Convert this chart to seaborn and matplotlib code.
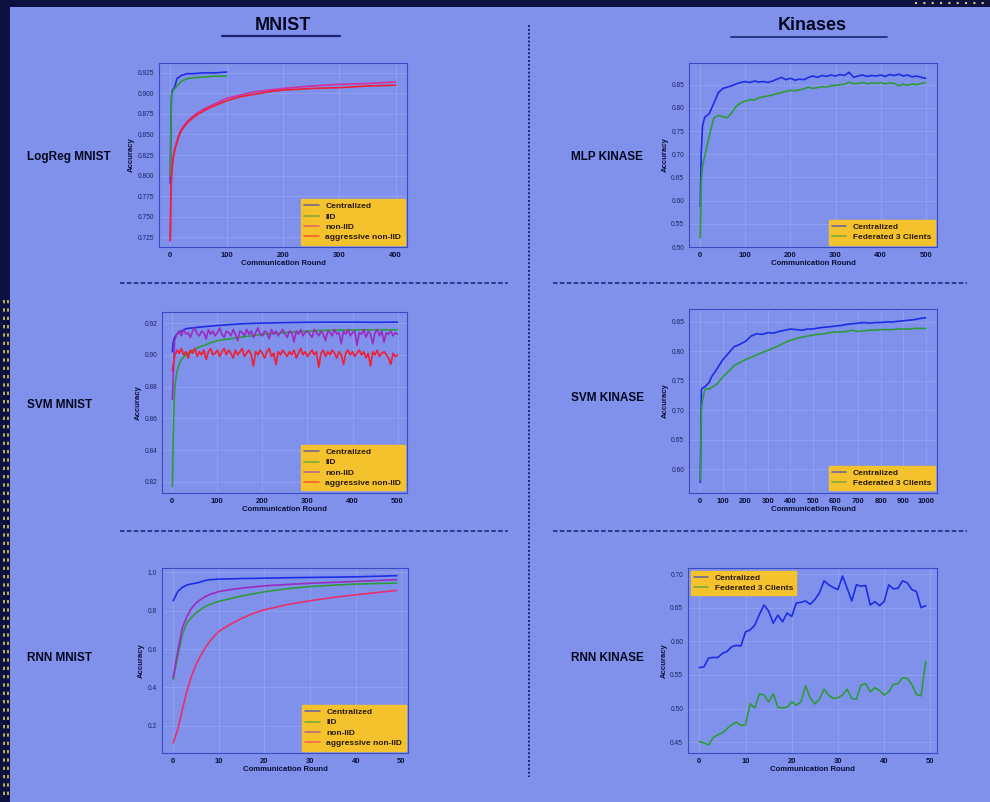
import numpy as np
import matplotlib.pyplot as plt
from matplotlib.lines import Line2D
from matplotlib.patches import Rectangle
import seaborn as sns

# LogReg MNIST
logreg_x_short = [0, 1, 2, 3, 5, 8, 12, 16, 20, 30, 40, 60, 80, 100]
logreg_central = [0.790, 0.850, 0.895, 0.902, 0.905, 0.908, 0.918, 0.920, 0.922, 0.924, 0.924, 0.925, 0.925, 0.926]
logreg_iid = [0.800, 0.860, 0.893, 0.901, 0.903, 0.906, 0.909, 0.912, 0.915, 0.918, 0.919, 0.920, 0.921, 0.921]
logreg_x_long = [0, 1, 2, 3, 5, 8, 10, 15, 20, 30, 40, 50, 60, 75, 100, 125, 150, 175, 200, 250, 300, 350, 400]
logreg_noniid = [0.720, 0.780, 0.800, 0.810, 0.822, 0.833, 0.838, 0.849, 0.857, 0.866, 0.872, 0.877, 0.881,
                 0.886, 0.894, 0.898, 0.902, 0.904, 0.906, 0.909, 0.911, 0.912, 0.914]
logreg_aggr = [0.722, 0.770, 0.795, 0.807, 0.820, 0.831, 0.836, 0.847, 0.855, 0.864, 0.870, 0.875, 0.879,
               0.884, 0.891, 0.896, 0.899, 0.902, 0.904, 0.906, 0.907, 0.909, 0.910]

# MLP KINASE
mlp_x = [0, 2, 5] + list(range(10, 501, 10))
mlp_central = [0.588, 0.700, 0.762, 0.780, 0.788, 0.810, 0.833, 0.842, 0.845, 0.848, 0.852, 0.855, 0.857,
               0.855, 0.858, 0.856, 0.857, 0.855, 0.858, 0.862, 0.866, 0.861, 0.864, 0.860, 0.862, 0.861,
               0.866, 0.869, 0.866, 0.870, 0.868, 0.871, 0.869, 0.872, 0.870, 0.877, 0.866, 0.869, 0.871,
               0.868, 0.870, 0.869, 0.871, 0.868, 0.872, 0.870, 0.873, 0.869, 0.871, 0.867, 0.869, 0.866, 0.864]
mlp_fed = [0.520, 0.640, 0.675, 0.697, 0.740, 0.778, 0.784, 0.781, 0.779, 0.790, 0.804, 0.811, 0.815,
           0.818, 0.817, 0.822, 0.824, 0.826, 0.828, 0.831, 0.833, 0.836, 0.838, 0.837, 0.839, 0.841,
           0.845, 0.842, 0.844, 0.846, 0.845, 0.848, 0.849, 0.850, 0.851, 0.856, 0.852, 0.853, 0.855,
           0.852, 0.854, 0.853, 0.855, 0.852, 0.854, 0.853, 0.848, 0.851, 0.849, 0.852, 0.850, 0.853, 0.855]

# SVM MNIST
svm_m_x_central = [0, 2, 5, 10, 20, 30, 45, 60, 80, 100, 125, 150, 175, 200, 250, 300, 350, 400, 450, 500]
svm_m_central = [0.902, 0.908, 0.911, 0.913, 0.915, 0.9165, 0.917, 0.9175, 0.918, 0.9185, 0.919, 0.9195,
                 0.9198, 0.920, 0.9203, 0.9205, 0.9206, 0.9206, 0.9205, 0.9206]
svm_m_x_iid = [0, 2, 4, 6, 10, 15, 20, 30, 40, 60, 80, 100, 125, 150, 200, 250, 300, 350, 400, 450, 500]
svm_m_iid = [0.817, 0.850, 0.872, 0.881, 0.889, 0.894, 0.897, 0.900, 0.902, 0.905, 0.907, 0.909, 0.910,
             0.911, 0.913, 0.914, 0.915, 0.9155, 0.9157, 0.9158, 0.9158]
svm_m_x_noisy = list(range(0, 501, 5))
svm_m_noniid = [
    0.872, 0.909, 0.913, 0.915, 0.912, 0.916, 0.913, 0.914, 0.911, 0.915,
    0.917, 0.913, 0.912, 0.915, 0.914, 0.910, 0.916, 0.913, 0.915, 0.912,
    0.914, 0.917, 0.913, 0.911, 0.915, 0.914, 0.912, 0.916, 0.913, 0.909,
    0.915, 0.914, 0.912, 0.916, 0.913, 0.915, 0.911, 0.914, 0.917, 0.913,
    0.912, 0.915, 0.914, 0.910, 0.916, 0.913, 0.915, 0.912, 0.914, 0.916,
    0.913, 0.911, 0.915, 0.914, 0.908, 0.915, 0.913, 0.916, 0.912, 0.914,
    0.915, 0.913, 0.911, 0.916, 0.914, 0.912, 0.915, 0.913, 0.909, 0.915,
    0.914, 0.912, 0.916, 0.913, 0.914, 0.907, 0.915, 0.913, 0.916, 0.912,
    0.914, 0.915, 0.906, 0.914, 0.913, 0.916, 0.911, 0.915, 0.913, 0.907,
    0.914, 0.916, 0.912, 0.915, 0.908, 0.914, 0.913, 0.915, 0.912, 0.914,
    0.913]
svm_m_aggr = [
    0.890, 0.899, 0.903, 0.901, 0.904, 0.900, 0.902, 0.898, 0.903, 0.901,
    0.904, 0.899, 0.902, 0.900, 0.903, 0.897, 0.902, 0.904, 0.900, 0.901,
    0.903, 0.899, 0.902, 0.904, 0.900, 0.903, 0.901, 0.898, 0.903, 0.900,
    0.902, 0.904, 0.899, 0.901, 0.903, 0.900, 0.893, 0.902, 0.900, 0.903,
    0.901, 0.898, 0.902, 0.904, 0.899, 0.901, 0.894, 0.902, 0.900, 0.903,
    0.901, 0.899, 0.902, 0.900, 0.903, 0.898, 0.901, 0.904, 0.900, 0.902,
    0.899, 0.901, 0.903, 0.900, 0.902, 0.892, 0.901, 0.903, 0.899, 0.902,
    0.900, 0.903, 0.901, 0.898, 0.902, 0.900, 0.894, 0.901, 0.903, 0.900,
    0.902, 0.899, 0.901, 0.903, 0.900, 0.902, 0.898, 0.901, 0.893, 0.902,
    0.900, 0.903, 0.899, 0.901, 0.902, 0.900, 0.898, 0.894, 0.901, 0.899,
    0.900]

# SVM KINASE
svm_k_x = [0, 5, 10, 20, 30, 40, 50] + list(range(75, 1001, 25))
svm_k_central = [0.578, 0.735, 0.738, 0.740, 0.744, 0.748, 0.757, 0.771, 0.786, 0.797, 0.808, 0.812,
                 0.817, 0.826, 0.830, 0.829, 0.832, 0.831, 0.834, 0.836, 0.838, 0.837, 0.836, 0.838,
                 0.838, 0.840, 0.841, 0.842, 0.843, 0.844, 0.846, 0.847, 0.848, 0.849, 0.848, 0.849,
                 0.849, 0.850, 0.850, 0.851, 0.852, 0.853, 0.854, 0.856, 0.857]
svm_k_fed = [0.582, 0.700, 0.718, 0.735, 0.737, 0.736, 0.739, 0.745, 0.757, 0.766, 0.776, 0.781,
             0.786, 0.790, 0.794, 0.798, 0.802, 0.806, 0.810, 0.815, 0.819, 0.822, 0.824, 0.826,
             0.828, 0.829, 0.830, 0.832, 0.833, 0.833, 0.834, 0.836, 0.834, 0.835, 0.836, 0.836,
             0.837, 0.837, 0.837, 0.838, 0.838, 0.838, 0.839, 0.839, 0.839]

# RNN MNIST
rnn_m_x = [0, 1, 2, 3, 4, 5, 6, 7, 8, 10, 12, 15, 18, 20, 25, 30, 35, 40, 45, 49]
rnn_m_central = [0.852, 0.900, 0.922, 0.934, 0.940, 0.944, 0.950, 0.958, 0.962, 0.965, 0.966, 0.968,
                 0.969, 0.970, 0.972, 0.974, 0.975, 0.977, 0.980, 0.983]
rnn_m_iid = [0.440, 0.562, 0.675, 0.736, 0.765, 0.788, 0.806, 0.822, 0.832, 0.849, 0.860, 0.877,
             0.890, 0.899, 0.915, 0.926, 0.933, 0.939, 0.942, 0.944]
rnn_m_noniid = [0.449, 0.588, 0.710, 0.770, 0.812, 0.840, 0.858, 0.873, 0.885, 0.900, 0.908, 0.918,
                0.925, 0.930, 0.937, 0.943, 0.948, 0.953, 0.958, 0.962]
rnn_m_aggr = [0.110, 0.180, 0.283, 0.379, 0.457, 0.518, 0.565, 0.605, 0.640, 0.692, 0.722, 0.760,
              0.790, 0.805, 0.832, 0.852, 0.869, 0.883, 0.896, 0.906]

# RNN KINASE
rnn_k_x = list(range(50))
rnn_k_central = [0.561, 0.562, 0.575, 0.576, 0.576, 0.582, 0.585, 0.592, 0.594, 0.593,
                 0.614, 0.617, 0.624, 0.640, 0.654, 0.645, 0.627, 0.639, 0.629, 0.642,
                 0.637, 0.657, 0.658, 0.660, 0.655, 0.662, 0.672, 0.690, 0.684, 0.680,
                 0.677, 0.697, 0.679, 0.660, 0.684, 0.682, 0.683, 0.654, 0.659, 0.653,
                 0.659, 0.684, 0.678, 0.679, 0.690, 0.687, 0.677, 0.674, 0.650, 0.653]
rnn_k_fed = [0.451, 0.449, 0.446, 0.457, 0.461, 0.464, 0.470, 0.476, 0.480, 0.475,
             0.476, 0.507, 0.501, 0.522, 0.520, 0.510, 0.522, 0.502, 0.501, 0.502,
             0.510, 0.505, 0.510, 0.534, 0.516, 0.507, 0.514, 0.529, 0.520, 0.515,
             0.516, 0.520, 0.529, 0.515, 0.514, 0.535, 0.537, 0.525, 0.531, 0.527,
             0.520, 0.525, 0.536, 0.537, 0.546, 0.545, 0.536, 0.521, 0.519, 0.570]

# ---------------- style ----------------
W, H = 990, 802
BG = "#8091eb"
NAVY = "#0c1140"
INK = "#0a0f3a"
SPINE = "#3a4ac4"
GOLD = "#f3c22c"
C_BLUE = "#1d2ce6"
C_GREEN = "#2f9a3c"
C_PURPLE = "#9a2cc0"
C_RED = "#f21e32"

sns.set_theme(style="whitegrid")
plt.rcParams.update({
    "font.family": ["Liberation Sans", "DejaVu Sans"],
    "axes.facecolor": BG,
    "axes.edgecolor": SPINE,
    "axes.linewidth": 0.8,
    "grid.color": "#97a4f2",
    "grid.linewidth": 0.5,
    "xtick.major.size": 2,
    "ytick.major.size": 2,
    "xtick.major.width": 0.6,
    "ytick.major.width": 0.6,
    "xtick.color": SPINE,
    "ytick.color": SPINE,
    "xtick.labelcolor": INK,
    "ytick.labelcolor": "#1b2466",
    "xtick.major.pad": 1.5,
    "ytick.major.pad": 1.5,
})

fig = plt.figure(figsize=(W / 100, H / 100), dpi=100, facecolor=NAVY)


def fx(x):
    return x / W


def fy(y):
    return 1 - y / H


# poster background (below the axes)
fig.patches.append(Rectangle((fx(10), 0), 1, fy(7), transform=fig.transFigure,
                             facecolor=BG, edgecolor="none", zorder=-5))
# small yellow dash decoration on the dark border
for xx in (3.5, 7.5):
    fig.add_artist(Line2D([fx(xx), fx(xx)], [fy(300), fy(800)], transform=fig.transFigure,
                          color="#d9cc5a", lw=1.2, ls=(0, (2, 3))))
fig.add_artist(Line2D([fx(915), fx(990)], [fy(3), fy(3)], transform=fig.transFigure,
                      color="#d9cc5a", lw=1.5, ls=(0, (1, 3))))


def hline(x0, x1, y, **kw):
    fig.add_artist(Line2D([fx(x0), fx(x1)], [fy(y), fy(y)], transform=fig.transFigure, **kw))


# column headers
fig.text(fx(283), fy(25), "MNIST", ha="center", va="center", fontsize=13, fontweight="heavy", color="#05071f")
hline(222, 340, 36, color="#1a2470", lw=1.6)
fig.text(fx(812), fy(26), "Kinases", ha="center", va="center", fontsize=13, fontweight="heavy", color="#05071f")
hline(731, 887, 37, color="#1a2470", lw=1.2)

# separators
fig.add_artist(Line2D([fx(529), fx(529)], [fy(25), fy(777)], transform=fig.transFigure,
                      color="#1a2470", lw=1.4, ls=(0, (1, 1))))
for yy in (283, 531):
    hline(120, 508, yy, color="#1a2470", lw=1.1, ls=(0, (3, 1.5)))
    hline(553, 967, yy, color="#1a2470", lw=1.1, ls=(0, (3, 1.5)))

# row labels
row_labels = [("LogReg MNIST", 27, 157), ("MLP KINASE", 571, 157),
              ("SVM MNIST", 27, 405), ("SVM KINASE", 571, 398),
              ("RNN MNIST", 27, 658), ("RNN KINASE", 571, 658)]
for txt, xx, yy in row_labels:
    fig.text(fx(xx), fy(yy), txt, ha="left", va="center", fontsize=8.5, fontweight="heavy", color="#05071f")


def panel(box, series, xlim, ylim, xticks, yticks, loc="lower right"):
    x0, y0, x1, y1 = box
    ax = fig.add_axes([fx(x0), fy(y1), (x1 - x0) / W, (y1 - y0) / H])
    for xs, ys, lab, col in series:
        sns.lineplot(x=xs, y=ys, ax=ax, color=col, label=lab, linewidth=1.2)
    ax.set_xlim(*xlim)
    ax.set_ylim(*ylim)
    ax.set_xticks(xticks)
    ax.set_yticks(yticks)
    ax.tick_params(axis="x", labelsize=5.5)
    ax.tick_params(axis="y", labelsize=4.8)
    for t in ax.get_xticklabels():
        t.set_fontweight("bold")
    ax.set_xlabel("Communication Round", fontsize=5.6, fontweight="bold", color=INK, labelpad=1)
    ax.set_ylabel("Accuracy", fontsize=5.6, fontweight="bold", color=INK, labelpad=2)
    leg = ax.legend(loc=loc, facecolor=GOLD, edgecolor=GOLD, framealpha=1,
                    fancybox=False, labelspacing=0.3, handlelength=1.7, handletextpad=0.8,
                    borderpad=0.4, borderaxespad=0.3, prop={"weight": "bold", "size": 6})
    for t in leg.get_texts():
        t.set_color("#2a1a08")
    for h in leg.get_lines():
        h.set_alpha(0.6)
    return ax


mnist_labels = ["Centralized", "IID", "non-IID", "aggressive non-IID"]
kinase_labels = ["Centralized", "Federated 3 Clients"]

panel((159, 63, 407, 247),
      [(logreg_x_short, logreg_central, mnist_labels[0], C_BLUE),
       (logreg_x_short, logreg_iid, mnist_labels[1], C_GREEN),
       (logreg_x_long, logreg_noniid, mnist_labels[2], "#d0309a"),
       (logreg_x_long, logreg_aggr, mnist_labels[3], C_RED)],
      (-20, 420), (0.713, 0.937), [0, 100, 200, 300, 400],
      [0.725, 0.750, 0.775, 0.800, 0.825, 0.850, 0.875, 0.900, 0.925])

panel((689, 63, 937, 247),
      [(mlp_x, mlp_central, kinase_labels[0], C_BLUE),
       (mlp_x, mlp_fed, kinase_labels[1], C_GREEN)],
      (-25, 525), (0.50, 0.897), [0, 100, 200, 300, 400, 500],
      [0.50, 0.55, 0.60, 0.65, 0.70, 0.75, 0.80, 0.85])

panel((162, 312, 407, 493),
      [(svm_m_x_central, svm_m_central, mnist_labels[0], C_BLUE),
       (svm_m_x_iid, svm_m_iid, mnist_labels[1], C_GREEN),
       (svm_m_x_noisy, svm_m_noniid, mnist_labels[2], C_PURPLE),
       (svm_m_x_noisy, svm_m_aggr, mnist_labels[3], C_RED)],
      (-23, 521), (0.813, 0.927), [0, 100, 200, 300, 400, 500],
      [0.82, 0.84, 0.86, 0.88, 0.90, 0.92])

panel((689, 309, 937, 493),
      [(svm_k_x, svm_k_central, kinase_labels[0], C_BLUE),
       (svm_k_x, svm_k_fed, kinase_labels[1], C_GREEN)],
      (-50, 1050), (0.56, 0.872), list(range(0, 1001, 100)),
      [0.60, 0.65, 0.70, 0.75, 0.80, 0.85])

panel((162, 568, 408, 753),
      [(rnn_m_x, rnn_m_central, mnist_labels[0], C_BLUE),
       (rnn_m_x, rnn_m_iid, mnist_labels[1], C_GREEN),
       (rnn_m_x, rnn_m_noniid, mnist_labels[2], C_PURPLE),
       (rnn_m_x, rnn_m_aggr, mnist_labels[3], "#e8306a")],
      (-2.45, 51.45), (0.057, 1.023), [0, 10, 20, 30, 40, 50],
      [0.2, 0.4, 0.6, 0.8, 1.0])

panel((688, 568, 937, 753),
      [(rnn_k_x, rnn_k_central, kinase_labels[0], C_BLUE),
       (rnn_k_x, rnn_k_fed, kinase_labels[1], C_GREEN)],
      (-2.45, 51.45), (0.434, 0.709), [0, 10, 20, 30, 40, 50],
      [0.45, 0.50, 0.55, 0.60, 0.65, 0.70], loc="upper left")

fig.savefig("out.png", dpi=100, facecolor=fig.get_facecolor())
